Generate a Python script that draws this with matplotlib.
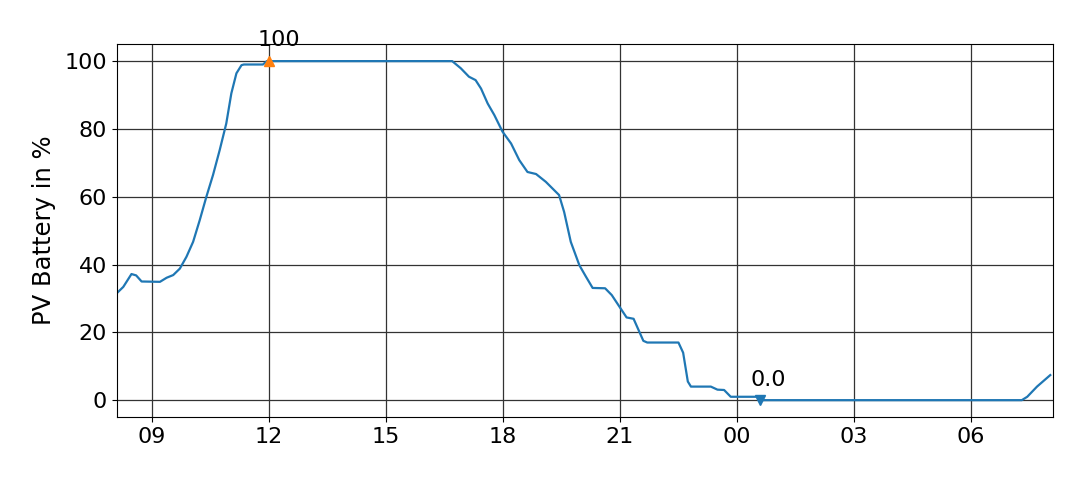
import pandas as pd
import matplotlib.pyplot as plt
import matplotlib.dates as mdates

# Battery state of charge (hours from day-1 midnight)
hours = [8.10, 8.27, 8.48, 8.60, 8.74, 9.21, 9.38, 9.55, 9.72, 9.89, 10.06,
         10.23, 10.40, 10.57, 10.74, 10.91, 11.04, 11.17, 11.30, 11.36, 11.85,
         11.95, 16.55, 16.70, 16.92, 17.13, 17.30, 17.44, 17.61, 17.78, 17.99,
         18.21, 18.42, 18.63, 18.85, 19.10, 19.44, 19.57, 19.74, 19.96, 20.13,
         20.30, 20.62, 20.79, 21.17, 21.35, 21.60, 21.70, 22.50, 22.62, 22.74,
         22.82, 23.33, 23.50, 23.67, 23.84, 24.55, 24.62, 31.30, 31.44, 31.69,
         32.03]
battery = [31.5, 33.4, 37.2, 36.8, 35, 34.9, 36.1, 36.9, 38.8, 42.3, 46.7,
           53.1, 60, 66.4, 73.7, 81.6, 90.5, 96.4, 98.8, 99, 99,
           100, 100, 100, 97.9, 95.4, 94.4, 91.9, 87.5, 84.1, 79.2,
           75.7, 70.8, 67.3, 66.7, 64.4, 60.5, 55.5, 46.7, 39.8, 36.4,
           33.1, 33, 31, 24.4, 24, 17.5, 17, 17, 14, 5.5,
           4, 4, 3.1, 3, 1, 1, 0, 0, 1, 4,
           7.4]

max_hour, max_val = 12.0, 100
min_hour, min_val = 24.59, 0.0

day0 = pd.Timestamp('2023-06-01')
times = day0 + pd.to_timedelta(hours, unit='h')

fig, ax = plt.subplots(figsize=(10.8, 4.8), dpi=100)
fig.subplots_adjust(left=0.108, right=0.975, top=0.908, bottom=0.131)

ax.plot(times, battery, color='tab:blue', lw=1.6)

t_max = day0 + pd.Timedelta(hours=max_hour)
t_min = day0 + pd.Timedelta(hours=min_hour)
ax.plot(t_max, max_val, marker='^', color='tab:orange', ms=7)
ax.plot(t_min, min_val, marker='v', color='tab:blue', ms=7)
ax.annotate(f'{max_val}', (t_max, max_val), xytext=(7, 11),
            textcoords='offset points', ha='center', fontsize=16)
ax.annotate(f'{min_val}', (t_min, min_val), xytext=(6, 10),
            textcoords='offset points', ha='center', fontsize=16)

ax.set_xlim(day0 + pd.Timedelta(hours=8.1), day0 + pd.Timedelta(hours=32.1))
ax.set_ylim(-5, 105)
ax.xaxis.set_major_locator(mdates.HourLocator(byhour=range(0, 24, 3)))
ax.xaxis.set_major_formatter(mdates.DateFormatter('%H'))
ax.set_ylabel('PV Battery in %', fontsize=17.5, labelpad=6)
ax.tick_params(labelsize=16)
ax.grid(True, color='#333333', lw=0.9)

plt.savefig('out.png')
